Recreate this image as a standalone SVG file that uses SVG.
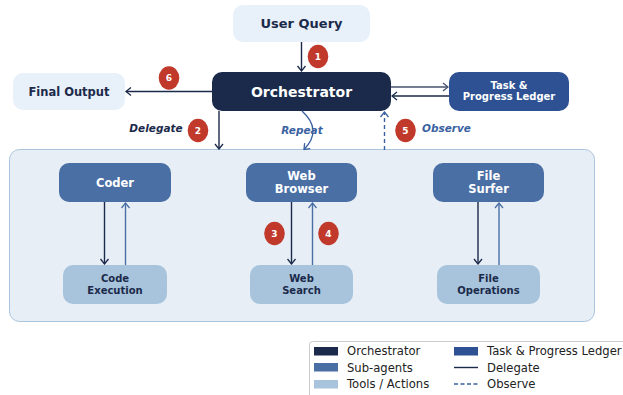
<svg xmlns="http://www.w3.org/2000/svg" width="623" height="395" viewBox="0 0 623 395">
<style>
text{font-family:"DejaVu Sans","Liberation Sans",sans-serif}
.b{font-weight:bold;text-anchor:middle}
.w{fill:#ffffff}
.d{fill:#1b2a4a}
.lab{font-weight:bold;font-style:italic;font-size:10.5px}
.badge ellipse{fill:#c0392b}
.badge text{fill:#fff;font-weight:bold;font-size:9px;text-anchor:middle}
.ln{fill:none;stroke-width:1.4}
.dk{stroke:#1b2a4a}
.bl{stroke:#4a6fa5}
.leg{font-size:11.6px;fill:#222}
</style>
<defs>
<marker id="ad" viewBox="-7 -5 8 10" refX="0" refY="0" markerWidth="8" markerHeight="10" markerUnits="userSpaceOnUse" orient="auto"><path d="M-5,-4 L0,0 L-5,4" fill="none" stroke="#1b2a4a" stroke-width="1.3"/></marker>
<marker id="ab" viewBox="-7 -5 8 10" refX="0" refY="0" markerWidth="8" markerHeight="10" markerUnits="userSpaceOnUse" orient="auto"><path d="M-5,-4 L0,0 L-5,4" fill="none" stroke="#4a6fa5" stroke-width="1.3"/></marker>
<marker id="ao" viewBox="-7 -5 8 10" refX="0" refY="0" markerWidth="8" markerHeight="10" markerUnits="userSpaceOnUse" orient="auto"><path d="M-5,-4 L0,0 L-5,4" fill="none" stroke="#3a62a0" stroke-width="1.3"/></marker>
<marker id="ag" viewBox="-7 -5 8 10" refX="0" refY="0" markerWidth="8" markerHeight="10" markerUnits="userSpaceOnUse" orient="auto"><path d="M-5,-4 L0,0 L-5,4" fill="none" stroke="#46526e" stroke-width="1.3"/></marker>
</defs>
<rect width="623" height="395" fill="#ffffff"/>
<g id="container"><rect x="9.5" y="149.5" width="585" height="172" rx="10" fill="#e7eef5" stroke="#a9c4dd" stroke-width="1"/></g>
<g id="user-query"><rect x="233" y="5" width="137" height="37" rx="10" fill="#e8f0f9"/><text class="b d" x="301.5" y="28" font-size="13">User Query</text></g>
<g id="orchestrator"><rect x="212" y="72" width="179" height="39" rx="10" fill="#1b2a4a"/><text class="b w" x="301.5" y="96.5" font-size="14">Orchestrator</text></g>
<g id="final-output"><rect x="13" y="73" width="112" height="37" rx="10" fill="#e8f0f9"/><text class="b d" x="69" y="95.5" font-size="11.5">Final Output</text></g>
<g id="ledger"><rect x="449" y="72" width="120" height="39" rx="10" fill="#2d5193"/><text class="b w" x="509" y="88.5" font-size="10">Task &amp;</text><text class="b w" x="509" y="100" font-size="10">Progress Ledger</text></g>
<g id="coder"><rect x="59" y="163" width="112" height="39" rx="10" fill="#4a6fa5"/><text class="b w" x="115" y="186.5" font-size="11.5">Coder</text></g>
<g id="web-browser"><rect x="246" y="163" width="111" height="39" rx="10" fill="#4a6fa5"/><text class="b w" x="301.5" y="179.5" font-size="11.5">Web</text><text class="b w" x="301.5" y="192.5" font-size="11.5">Browser</text></g>
<g id="file-surfer"><rect x="433" y="163" width="111" height="39" rx="10" fill="#4a6fa5"/><text class="b w" x="488.5" y="179.5" font-size="11.5">File</text><text class="b w" x="488.5" y="192.5" font-size="11.5">Surfer</text></g>
<g id="code-execution"><rect x="63" y="265" width="104" height="39" rx="10" fill="#a8c4dc"/><text class="b d" x="115" y="282" font-size="10">Code</text><text class="b d" x="115" y="293.5" font-size="10">Execution</text></g>
<g id="web-search"><rect x="250" y="265" width="103" height="39" rx="10" fill="#a8c4dc"/><text class="b d" x="301.5" y="282" font-size="10">Web</text><text class="b d" x="301.5" y="293.5" font-size="10">Search</text></g>
<g id="file-operations"><rect x="437" y="265" width="103" height="39" rx="10" fill="#a8c4dc"/><text class="b d" x="488.5" y="282" font-size="10">File</text><text class="b d" x="488.5" y="293.5" font-size="10">Operations</text></g>
<g id="connectors">
<line class="ln dk" x1="301.5" y1="42" x2="301.5" y2="71" marker-end="url(#ad)"/>
<line class="ln dk" x1="212" y1="91.5" x2="126" y2="91.5" marker-end="url(#ad)"/>
<line class="ln" stroke="#46526e" x1="391" y1="87" x2="448" y2="87" marker-end="url(#ag)"/>
<line class="ln dk" x1="449" y1="96" x2="392" y2="96" marker-end="url(#ad)"/>
<line class="ln dk" x1="219" y1="111" x2="219" y2="149" marker-end="url(#ad)"/>
<path class="ln" stroke="#3a62a0" d="M302,111 Q323,130 304,149.5" marker-end="url(#ao)"/>
<line class="ln" stroke="#3a62a0" stroke-dasharray="4,3" x1="384.5" y1="150" x2="384.5" y2="112" marker-end="url(#ao)"/>
<line class="ln dk" x1="104.5" y1="202" x2="104.5" y2="264" marker-end="url(#ad)"/>
<line class="ln bl" x1="125.5" y1="265" x2="125.5" y2="203" marker-end="url(#ab)"/>
<line class="ln dk" x1="291.5" y1="202" x2="291.5" y2="264" marker-end="url(#ad)"/>
<line class="ln bl" x1="312.5" y1="265" x2="312.5" y2="203" marker-end="url(#ab)"/>
<line class="ln dk" x1="478" y1="202" x2="478" y2="264" marker-end="url(#ad)"/>
<line class="ln bl" x1="499" y1="265" x2="499" y2="203" marker-end="url(#ab)"/>
</g>
<g id="labels">
<text class="lab" x="156" y="132" text-anchor="middle" fill="#1b2a4a">Delegate</text>
<text class="lab" x="302" y="134" text-anchor="middle" fill="#3a62a0">Repeat</text>
<text class="lab" x="422" y="131.5" fill="#3a62a0">Observe</text>
</g>
<g id="badges">
<g class="badge"><ellipse cx="318" cy="56.5" rx="10.3" ry="11.7"/><text x="318" y="59.7">1</text></g>
<g class="badge"><ellipse cx="198" cy="130.5" rx="10.3" ry="11.7"/><text x="198" y="133.7">2</text></g>
<g class="badge"><ellipse cx="274.5" cy="233.5" rx="10.3" ry="11.7"/><text x="274.5" y="236.7">3</text></g>
<g class="badge"><ellipse cx="328.5" cy="233.5" rx="10.3" ry="11.7"/><text x="328.5" y="236.7">4</text></g>
<g class="badge"><ellipse cx="405.5" cy="130.5" rx="10.3" ry="11.7"/><text x="405.5" y="133.7">5</text></g>
<g class="badge"><ellipse cx="169" cy="78" rx="10.3" ry="11.7"/><text x="169" y="81.2">6</text></g>
</g>
<g id="legend">
<rect x="309.5" y="341.5" width="330" height="60" rx="3" fill="#ffffff" stroke="#cccccc" stroke-width="1"/>
<rect x="314" y="347" width="24" height="8.5" fill="#1b2a4a"/>
<text class="leg" x="347" y="355">Orchestrator</text>
<rect x="314" y="363" width="24" height="8.5" fill="#4a6fa5"/>
<text class="leg" x="347" y="371.5">Sub-agents</text>
<rect x="314" y="380" width="24" height="8.5" fill="#a8c4dc"/>
<text class="leg" x="347" y="388">Tools / Actions</text>
<rect x="454" y="347" width="24" height="8.5" fill="#2d5193"/>
<text class="leg" x="487" y="355">Task &amp; Progress Ledger</text>
<line x1="454" y1="367.5" x2="478" y2="367.5" stroke="#1b2a4a" stroke-width="1.4"/>
<text class="leg" x="487" y="371.5">Delegate</text>
<line x1="454" y1="384" x2="478" y2="384" stroke="#3a62a0" stroke-width="1.4" stroke-dasharray="4,2.5"/>
<text class="leg" x="487" y="388">Observe</text>
</g>
</svg>
